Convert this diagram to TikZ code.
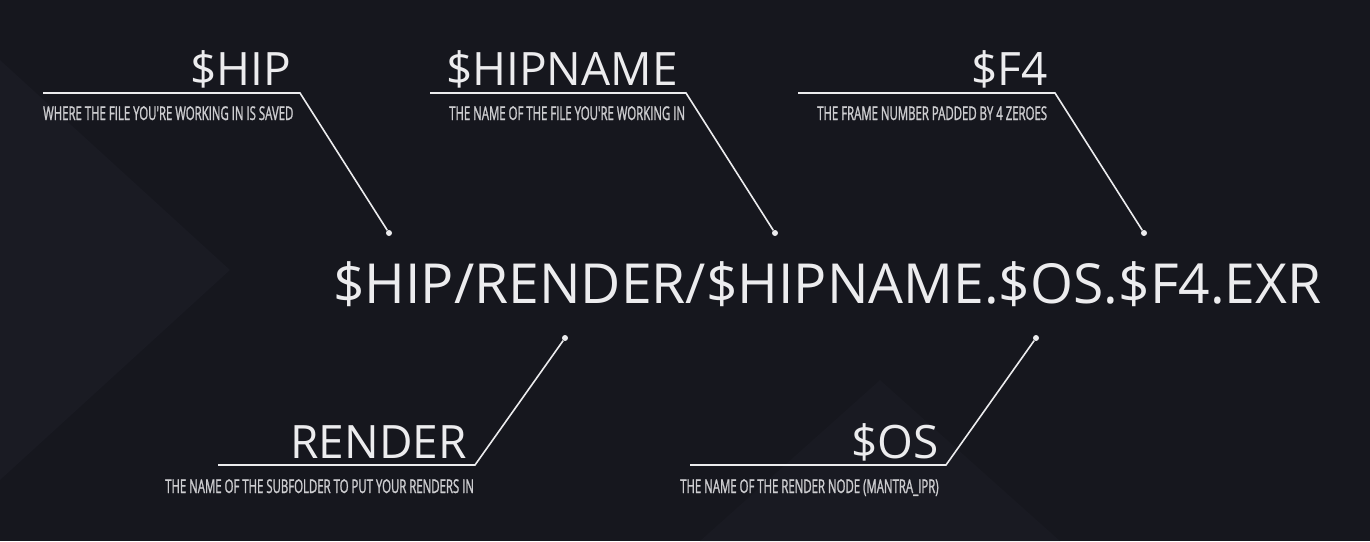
\documentclass[tikz,border=0pt]{standalone}
\usepackage{fontspec}
\setmainfont{Open Sans}
\newfontfamily\capfont[FakeStretch=0.6, FakeBold=1.2]{Open Sans}
\usepackage{tikz}
\usetikzlibrary{positioning, calc}
\usepackage{xcolor}
\definecolor{bgdark}{RGB}{22, 23, 30}
\definecolor{bgshade}{RGB}{30, 31, 40}
\definecolor{ink}{RGB}{236, 236, 238}
\definecolor{inksoft}{RGB}{205, 205, 208}
\tikzset{
    title/.style={anchor=base east, inner sep=0pt, text=ink, font=\fontsize{46}{46}\selectfont},
    caption/.style={anchor=base west, inner sep=0pt, text=inksoft, font=\capfont\fontsize{19}{19}\selectfont},
    pathtext/.style={anchor=base west, inner sep=0pt, text=ink, font=\fontsize{55.2}{55.2}\selectfont},
    dot/.style={circle, fill=ink, inner sep=0pt, minimum size=6pt},
    leader/.style={draw=ink, line width=1.6pt}
}
\begin{document}
\begin{tikzpicture}[x=1pt, y=-1pt]
        % Background
        \fill[bgdark] (0,0) rectangle (1370,541);
        \fill[bgshade, opacity=0.5] (0,60) -- (230,270) -- (0,480) -- cycle;
        \fill[bgshade, opacity=0.4] (700,541) -- (880,380) -- (1060,541) -- cycle;
        \useasboundingbox (0,0) rectangle (1370,541);

        % The full output path
        \node[pathtext] (path) at (333,303) {\$HIP/RENDER/\$HIPNAME.\$OS.\$F4.EXR};

        % Anchor dots on the path
        \node[dot] (hipD) at (389,233) {};
        \node[dot] (nameD) at (775,233) {};
        \node[dot] (f4D) at (1144,233) {};
        \node[dot] (renderD) at (565,338) {};
        \node[dot] (osD) at (1036,338) {};

        % Upper labels
        \node[title] (hipT) at (291,85) {\$HIP};
        \node[caption] (hipC) at (43,120) {WHERE THE FILE YOU'RE WORKING IN IS SAVED};
        \coordinate (hipL) at (43,93);
        \coordinate (hipK) at (300,93);

        \node[title] (nameT) at (678,85) {\$HIPNAME};
        \node[caption] (nameC) at (449,120) {THE NAME OF THE FILE YOU'RE WORKING IN};
        \coordinate (nameL) at (430,93);
        \coordinate (nameK) at (686,93);

        \node[title] (f4T) at (1048,85) {\$F4};
        \node[caption] (f4C) at (817,120) {THE FRAME NUMBER PADDED BY 4 ZEROES};
        \coordinate (f4L) at (798,93);
        \coordinate (f4K) at (1055,93);

        % Lower labels
        \node[title] (renderT) at (467,458) {RENDER};
        \node[caption] (renderC) at (165,493) {THE NAME OF THE SUBFOLDER TO PUT YOUR RENDERS IN};
        \coordinate (renderL) at (218,465);
        \coordinate (renderK) at (475,465);

        \node[title] (osT) at (939,458) {\$OS};
        \node[caption] (osC) at (680,493) {THE NAME OF THE RENDER NODE (MANTRA\_IPR)};
        \coordinate (osL) at (690,465);
        \coordinate (osK) at (946,465);

        % Leader lines
        \draw[leader] (hipL) -- (hipK) -- (hipD);
        \draw[leader] (nameL) -- (nameK) -- (nameD);
        \draw[leader] (f4L) -- (f4K) -- (f4D);
        \draw[leader] (renderL) -- (renderK) -- (renderD);
        \draw[leader] (osL) -- (osK) -- (osD);
    \end{tikzpicture}
\end{document}
